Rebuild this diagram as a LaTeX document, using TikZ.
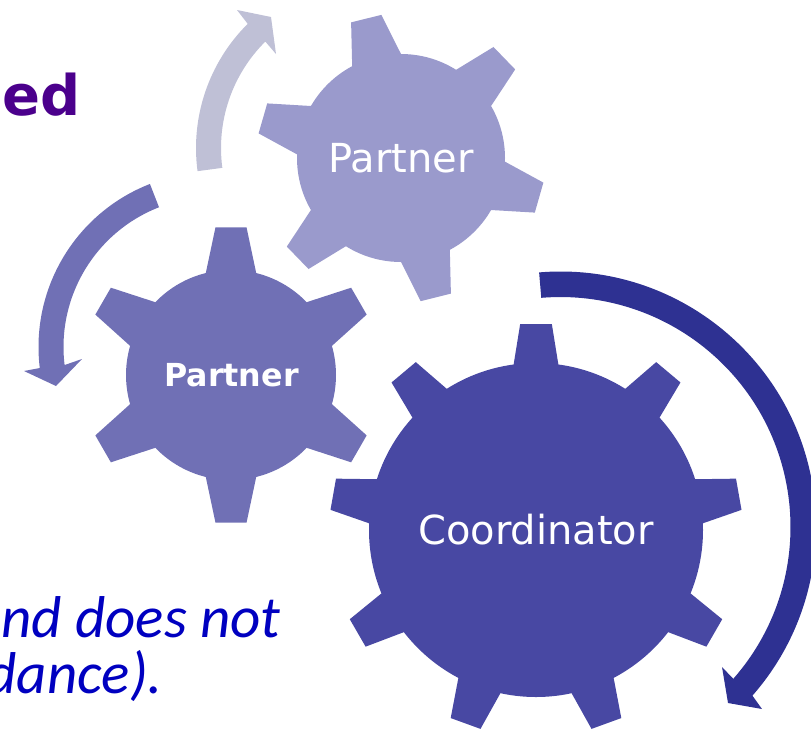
\documentclass[tikz,border=0pt]{standalone}
\usepackage{fontspec}
\usetikzlibrary{calc}
\setmainfont{DejaVu Sans}
\newfontfamily\notefont{Carlito}
\definecolor{coordcolor}{HTML}{4848A3}
\definecolor{midcolor}{HTML}{7070B5}
\definecolor{lightcolor}{HTML}{9A9ACC}
\definecolor{coordarrow}{HTML}{2E3192}
\definecolor{palearrow}{HTML}{BFC0D6}
\definecolor{headcolor}{HTML}{4B008C}
\definecolor{notecolor}{HTML}{0000C0}
\tikzset{
  gearlabel/.style={text=white,inner sep=0pt,anchor=base},
  notelabel/.style={text=notecolor,inner sep=0pt,anchor=base east,font=\notefont\itshape\fontsize{59}{64}\selectfont}
}
% center, teeth angles, body radius, tip radius, half angle at body, half angle at tip, colour
\newcommand{\gear}[7]{
  \fill[#7] (#1) circle (#3 pt);
  \foreach \a in {#2}
    \fill[#7,shift={(#1)}] (0,0) -- (\a-#5:#3 pt) -- (\a-#6:#4 pt) -- (\a+#6:#4 pt) -- (\a+#5:#3 pt) -- cycle;
}
\begin{document}
\begin{tikzpicture}[x=1pt,y=1pt]
  \useasboundingbox (0,-732) rectangle (811,0);
  \clip (0,-732) rectangle (811,0);

  \coordinate (coordcenter) at (536,-530);
  \coordinate (midcenter) at (231,-375);
  \coordinate (lightcenter) at (401,-158);

  % gears
  \gear{coordcenter}{90,50,10,-30,-70,-110,-150,170,130}{167}{206.5}{7.7}{4.4}{coordcolor}
  \gear{midcenter}{90,30,-30,-90,-150,150}{105}{148.5}{13.9}{6}{midcolor}
  \gear{lightcenter}{104,44,-16,-76,-136,164}{104}{144.5}{14}{6.2}{lightcolor}

  % arrows
  \coordinate (coordarc) at (560.5,-527);
  \fill[coordarrow] (coordarc) ++(94.8:255.5pt) arc[start angle=94.8,end angle=-41.3,radius=255.5pt]
    -- (762,-709) -- (728,-703) -- (722,-667) -- ($(coordarc)+(-41.3:230pt)$)
    arc[start angle=-41.3,end angle=94.8,radius=230pt] -- cycle;
  \coordinate (midarc) at (213.5,-347);
  \fill[midcolor] (midarc) ++(111.3:175pt) arc[start angle=111.3,end angle=186.9,radius=175pt]
    -- (24,-371) -- (56,-386) -- (82,-359) -- ($(midarc)+(186.9:150pt)$)
    arc[start angle=186.9,end angle=111.3,radius=150pt] -- cycle;
  \coordinate (palearc) at (371,-148);
  \fill[palearrow] (palearc) ++(187.6:175pt) arc[start angle=187.6,end angle=134.8,radius=175pt]
    -- (237,-10) -- (271,-17) -- (276,-54) -- ($(palearc)+(134.8:150pt)$)
    arc[start angle=134.8,end angle=187.6,radius=150pt] -- cycle;

  % labels
  \node[gearlabel,font=\fontsize{40}{48}\selectfont] (coordinator) at (536,-544) {Coordinator};
  \node[gearlabel,font=\fontsize{40}{48}\selectfont] (partnerlight) at (401,-172) {Partner};
  \node[gearlabel,font=\bfseries\fontsize{31.7}{38}\selectfont] (partnermid) at (231.5,-386) {Partner};

  \node[text=headcolor,inner sep=0pt,anchor=base east,font=\bfseries\fontsize{56}{60}\selectfont] (headtext) at (81,-115) {ed};
  \node[notelabel] (noteone) at (281,-637) {nd does not};
  \node[notelabel] (notetwo) at (163,-693) {dance).};
\end{tikzpicture}
\end{document}
